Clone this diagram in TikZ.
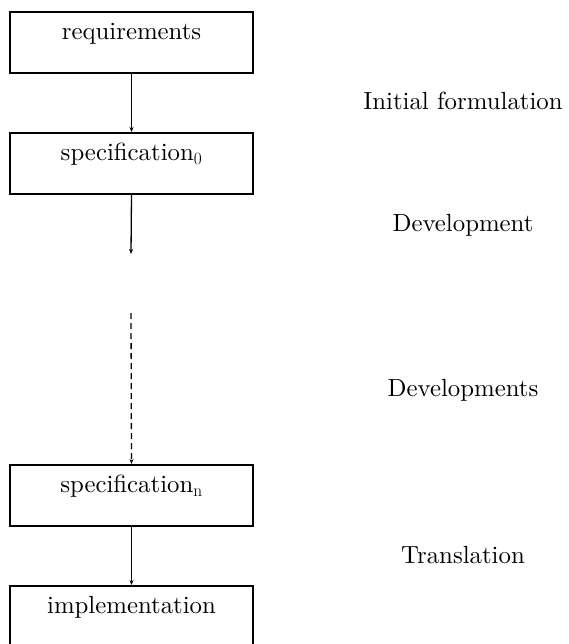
\documentclass[tikz,border=0pt]{standalone}
\usepackage{fontspec}
\usetikzlibrary{arrows.meta}
% the design-size-10 cut, scaled up, for every text in the chart
\newfontfamily\chartrm{lmroman10-regular.otf}
\begin{document}
\begin{tikzpicture}[x=1pt,y=-1pt,
  bigtext/.style={font=\chartrm\fontsize{24.8}{30}\selectfont},
  stagebox/.style={draw, line width=1.8pt, minimum width=243pt, minimum height=61pt,
    inner sep=0pt, anchor=north},
  boxtitle/.style={label={[bigtext, anchor=base, yshift=-28.5pt, inner sep=0pt]north:#1}},
  flow/.style={line width=1.3pt, -{Stealth[length=5pt,width=4pt]}},
  phase/.style={bigtext, anchor=base, inner sep=0pt}]
  \clip (0,0) rectangle (569,644);
  \useasboundingbox (0,0) rectangle (569,644);

  % the chain of stages
  \node[stagebox, boxtitle={requirements}] (req) at (131.5,11) {};
  \node[stagebox, boxtitle={specification$_0$}] (spec0) at (131.5,132) {};
  \node[stagebox, boxtitle={specification$_{\mathrm{n}}$}] (specn) at (131.5,464) {};
  \node[stagebox, boxtitle={implementation}] (impl) at (131.5,585) {};

  % loose ends around the gap between the two specifications
  \coordinate (devend) at (131,254);
  \coordinate (devstart) at (131,313);

  % connectors
  \draw[flow] (req.south) -- (spec0.north);
  \draw[flow] (spec0.south) -- (devend);
  \draw[flow, dash pattern=on 6pt off 4pt] (devstart) -- (specn.north);
  \draw[flow] (specn.south) -- (impl.north);

  % names of the phases
  \node[phase] (initf) at (463,110) {Initial formulation};
  \node[phase] (dev) at (463,231) {Development};
  \node[phase] (devs) at (463,396) {Developments};
  \node[phase] (trans) at (463,563) {Translation};
\end{tikzpicture}
\end{document}
